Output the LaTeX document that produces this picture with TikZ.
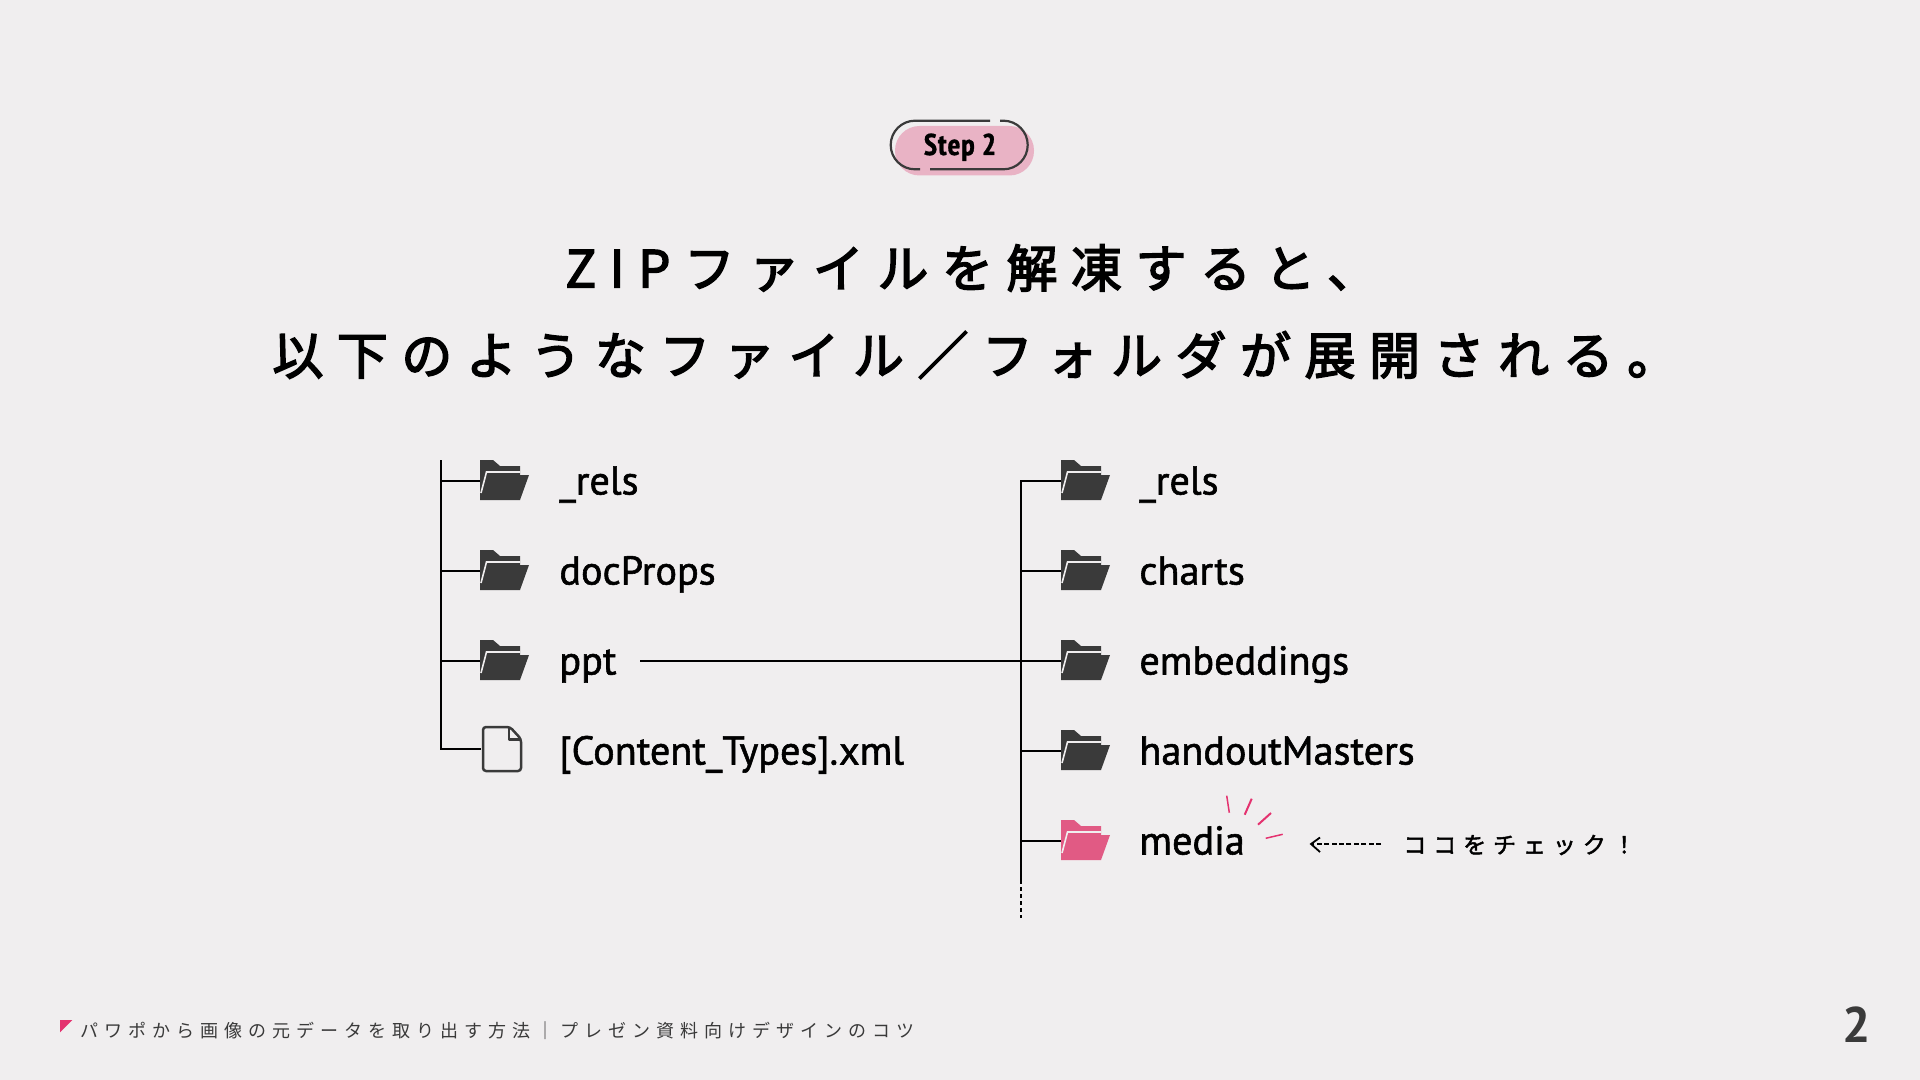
\documentclass[tikz,border=0pt]{standalone}
\usepackage{fontspec}
\setmainfont{PT Sans}
\newfontfamily\titlefont[LetterSpace=26.5,FakeBold=3]{Noto Sans CJK JP}
\newfontfamily\checkfont[LetterSpace=30,FakeBold=2]{Noto Sans CJK JP}
\newfontfamily\footfont[LetterSpace=33.4]{Noto Sans CJK JP}
\newfontfamily\labelfont[FakeBold=1.4]{PT Sans}
\newfontfamily\stepfont[LetterSpace=3,FakeBold=1]{PT Sans Narrow}
\definecolor{bgc}{HTML}{F0EEEF}
\definecolor{ink}{HTML}{3A3A3A}
\definecolor{pinkc}{HTML}{E9B3C5}
\definecolor{hotc}{HTML}{E15A84}
\definecolor{sparkc}{HTML}{E4326F}
\tikzset{
  x=0.5pt,y=-0.5pt,
  tree/.style={draw=black,line width=1pt},
  lab/.style={anchor=base west,inner sep=0pt,font=\labelfont\fontsize{20.1}{20.1}\selectfont,text=black},
  ttl/.style={anchor=west,inner sep=0pt,font=\titlefont\fontsize{25.5}{25.5}\selectfont,text=black},
  spark/.style={draw=sparkc,line width=0.75pt},
  folder/.pic={
    \fill[pic actions] (0,0)--(13,0)--(20,6)--(40,6)--(40,15)--(49,15)--(40,40)--(0,40)--cycle;
    \draw[bgc,line width=0.8pt] (40,12)--(6.5,12)--(1,33);
  },
  docicon/.pic={
    \draw[ink,line width=1.25pt,line join=round,rounded corners=1.5pt] (0,0)--(27,0)--(38,12)--(38,44)--(0,44)--cycle;
    \draw[ink,line width=1.25pt,line join=round] (26,0)--(26,12.5)--(38,12.5);
  }
}
\begin{document}
\begin{tikzpicture}
\fill[bgc] (0,0) rectangle (1920,1080);
\useasboundingbox (0,0) rectangle (1920,1080);

% step pill
\fill[pinkc,rounded corners=12.25pt] (895,126) rectangle (1034,175.5);
\draw[ink,line width=1.1pt] (990,120.7)--(915,120.7) arc[start angle=-90,end angle=-270,radius=24.3] --(920,169.3);
\draw[ink,line width=1.1pt] (930,169.3)--(1003.4,169.3) arc[start angle=90,end angle=-90,radius=24.3] --(1000,120.7);
\node[anchor=base,inner sep=0pt,text=black,font=\stepfont\bfseries\fontsize{15}{15}\selectfont] (step) at (960,155) {Step 2};

% title
\node[ttl] (t1) at (565,268) {ZIPファイルを解凍すると、};
\node[ttl] (t2) at (272,355) {以下のようなファイル／フォルダが展開される。};

% left tree
\coordinate (ltop) at (441,460);
\coordinate (l1) at (441,481);
\coordinate (l2) at (441,571);
\coordinate (l3) at (441,661);
\coordinate (l4) at (441,749);
\coordinate (lf1) at (480,481);
\coordinate (lf2) at (480,571);
\coordinate (lf3) at (480,661);
\coordinate (lf4) at (481,749);
\draw[tree] (ltop)--(l4)--(lf4);
\draw[tree] (l1)--(lf1);
\draw[tree] (l2)--(lf2);
\draw[tree] (l3)--(lf3);
\pic[fill=ink] at (480,460) {folder};
\pic[fill=ink] at (480,550) {folder};
\pic[fill=ink] at (480,640) {folder};
\pic at (483,727) {docicon};
\node[lab] (a1) at (559,494.5) {\_rels};
\node[lab] (a2) at (559,584.5) {docProps};
\node[lab] (a3) at (559,674.5) {ppt};
\node[lab] (a4) at (559,764.5) {[Content\_Types].xml};

% right tree
\coordinate (pptend) at (640,661);
\coordinate (r1) at (1021,481);
\coordinate (r2) at (1021,571);
\coordinate (r3) at (1021,661);
\coordinate (r4) at (1021,751);
\coordinate (r5) at (1021,841);
\coordinate (rsolid) at (1021,880);
\coordinate (rdot) at (1021,918);
\coordinate (rf1) at (1061,481);
\coordinate (rf2) at (1061,571);
\coordinate (rf3) at (1061,661);
\coordinate (rf4) at (1061,751);
\coordinate (rf5) at (1061,841);
\draw[tree] (rf1)--(r1)--(rsolid);
\draw[tree,dash pattern=on 2pt off 1.5pt] (rsolid)--(rdot);
\draw[tree] (r2)--(rf2);
\draw[tree] (pptend)--(rf3);
\draw[tree] (r4)--(rf4);
\draw[tree] (r5)--(rf5);
\pic[fill=ink] at (1061,460) {folder};
\pic[fill=ink] at (1061,550) {folder};
\pic[fill=ink] at (1061,640) {folder};
\pic[fill=ink] at (1061,730) {folder};
\pic[fill=hotc] at (1061,820) {folder};
\node[lab] (b1) at (1139,494.5) {\_rels};
\node[lab] (b2) at (1139,584.5) {charts};
\node[lab] (b3) at (1139,674.5) {embeddings};
\node[lab] (b4) at (1139,764.5) {handoutMasters};
\node[lab] (b5) at (1139,854.5) {media};

% sparks
\draw[spark] (1226.7,795.7)--(1229.3,812.7);
\draw[spark,line width=1pt] (1251.7,798.7)--(1244.7,814.7);
\draw[spark,line width=1pt] (1271,813)--(1258,824.7);
\draw[spark] (1282.7,834.3)--(1265.7,838.3);

% check note
\coordinate (arrtip) at (1311,844);
\coordinate (arrend) at (1381,844);
\draw[black,line width=0.75pt,dash pattern=on 2.5pt off 1.2pt] (arrend)--(arrtip);
\draw[black,line width=0.9pt] (1320,837.5)--(arrtip)--(1320,852);
\node[anchor=west,inner sep=0pt,font=\checkfont\fontsize{11.5}{11.5}\selectfont,text=black] (chk) at (1403,845) {ココをチェック！};

% footer
\fill[sparkc] (60,1020)--(72.3,1020)--(60,1032.3)--cycle;
\node[anchor=west,inner sep=0pt,font=\footfont\fontsize{9}{9}\selectfont,text=ink] (foot) at (80,1031) {パワポから画像の元データを取り出す方法｜プレゼン資料向けデザインのコツ};
\node[anchor=base,inner sep=0pt,text=ink,font=\fontsize{25}{25}\selectfont\bfseries] (pg) at (1857,1042) {2};
\end{tikzpicture}
\end{document}
